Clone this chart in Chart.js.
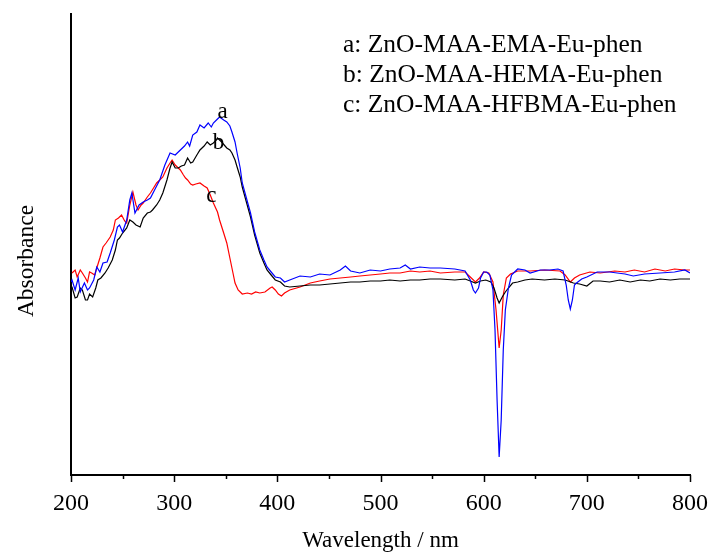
<!DOCTYPE html>
<html lang="en">
<head>
    <meta charset="UTF-8">
    <title>Absorbance spectra</title>
    <script src="https://cdn.jsdelivr.net/npm/chart.js"></script>
    <style>
        body {
            margin: 0;
            background: #fff;
        }
        #chartBox {
            width: 710px;
            height: 554px;
        }
    </style>
</head>
<body>
    <div id="chartBox">
        <canvas id="absChart" width="710" height="554"></canvas>
    </div>

    <script>
        // a: ZnO-MAA-EMA-Eu-phen (blue)
        const wlA = [200,201,204,207,209,213,216,218,222,225,228,231,235,238,242,245,247,250,254,257,259,262,266,270,274,277,281,286,291,296,301,306,310,313,315,318,322,325,329,333,336,338,342,344,348,351,354,356,359,361,364,366,370,374,378,383,387,390,394,398,403,407,412,422,432,441,451,461,466,471,480,490,500,509,519,524,529,538,548,558,572,582,587,590,592,595,597,600,603,606,609,611,613,615,617,619,621,624,627,633,640,645,655,664,672,677,680,682,684,686,688,690,695,700,710,722,737,745,756,771,785,795,800];
        const absA = [1.93,1.95,1.85,1.97,1.83,1.92,1.85,1.87,1.95,2.08,2.03,2.12,2.13,2.22,2.35,2.48,2.50,2.43,2.55,2.75,2.82,2.62,2.70,2.73,2.75,2.77,2.85,2.95,3.10,3.22,3.20,3.25,3.29,3.33,3.29,3.40,3.43,3.50,3.47,3.52,3.48,3.52,3.56,3.58,3.55,3.53,3.49,3.43,3.33,3.22,3.07,2.92,2.77,2.62,2.43,2.25,2.15,2.08,2.03,1.98,1.97,1.93,1.95,1.99,1.98,2.01,2.00,2.05,2.09,2.04,2.02,2.05,2.04,2.06,2.07,2.10,2.06,2.08,2.07,2.07,2.06,2.04,1.95,1.85,1.82,1.87,1.97,2.03,2.03,2.00,1.85,1.45,0.75,0.18,0.55,1.25,1.65,1.87,2.00,2.06,2.05,2.02,2.05,2.05,2.06,2.04,1.90,1.75,1.66,1.75,1.90,1.92,1.96,1.98,2.03,2.03,2.01,1.99,2.01,2.02,2.03,2.05,2.02];

        // b: ZnO-MAA-HEMA-Eu-phen (black)
        const wlB = [200,201,204,206,209,211,214,216,218,221,224,226,229,233,236,240,243,245,247,250,254,257,260,263,267,270,274,277,279,283,286,289,293,296,298,301,304,307,310,313,316,318,322,325,329,332,335,338,341,342,346,351,354,356,359,361,364,366,370,374,378,383,387,390,394,398,403,407,412,422,432,441,451,461,471,480,490,500,509,519,529,538,548,558,572,582,587,592,597,602,607,610,613,615,618,621,624,628,633,640,647,659,669,679,687,693,700,706,713,722,732,742,752,761,771,781,790,800];
        const absB = [1.88,1.88,1.77,1.78,1.87,1.85,1.75,1.75,1.81,1.78,1.87,1.95,1.97,2.02,2.07,2.15,2.25,2.35,2.37,2.42,2.47,2.55,2.53,2.50,2.48,2.57,2.62,2.63,2.65,2.70,2.75,2.82,2.95,3.07,3.13,3.07,3.07,3.09,3.10,3.17,3.12,3.13,3.20,3.25,3.29,3.33,3.30,3.32,3.35,3.37,3.33,3.27,3.25,3.22,3.15,3.08,2.98,2.88,2.73,2.58,2.40,2.22,2.12,2.05,2.00,1.95,1.93,1.89,1.88,1.89,1.90,1.90,1.91,1.92,1.93,1.93,1.94,1.94,1.95,1.94,1.95,1.95,1.96,1.96,1.95,1.96,1.94,1.92,1.94,1.95,1.93,1.87,1.77,1.72,1.78,1.83,1.87,1.92,1.93,1.95,1.96,1.95,1.96,1.95,1.92,1.91,1.89,1.94,1.94,1.93,1.95,1.93,1.95,1.94,1.96,1.95,1.96,1.96];

        // c: ZnO-MAA-HFBMA-Eu-phen (red)
        const wlC = [201,204,206,209,211,214,216,218,220,223,225,228,231,234,238,241,243,246,249,252,254,257,260,263,265,268,270,274,277,280,283,286,289,293,296,298,301,303,306,309,311,313,316,318,321,325,329,332,335,338,342,344,348,351,354,357,359,362,366,371,375,379,383,388,393,395,398,401,404,407,412,422,432,441,451,461,471,480,490,500,509,519,529,538,548,558,572,582,587,592,596,600,605,609,612,615,617,619,622,626,633,645,659,674,679,684,688,693,703,713,727,737,746,756,766,776,785,795,800];
        const absC = [2.02,2.05,1.98,2.05,2.02,1.97,1.93,2.03,2.02,2.00,2.07,2.17,2.28,2.32,2.38,2.45,2.55,2.57,2.60,2.54,2.52,2.70,2.83,2.70,2.65,2.70,2.72,2.78,2.82,2.87,2.92,2.95,2.98,3.07,3.12,3.15,3.10,3.08,3.05,3.00,2.97,2.95,2.91,2.90,2.91,2.92,2.89,2.87,2.80,2.72,2.63,2.55,2.42,2.32,2.17,2.02,1.92,1.85,1.81,1.82,1.81,1.83,1.82,1.83,1.87,1.88,1.85,1.81,1.79,1.82,1.85,1.88,1.92,1.94,1.96,1.97,1.98,1.99,2.00,2.01,2.02,2.02,2.04,2.03,2.04,2.02,2.03,2.03,1.98,1.93,1.97,2.03,2.02,1.93,1.65,1.27,1.45,1.80,1.97,2.01,2.04,2.04,2.05,2.04,2.00,1.93,1.97,2.00,2.03,2.02,2.04,2.03,2.05,2.03,2.06,2.04,2.06,2.05,2.05];

        const seriesNames = ['a: ZnO-MAA-EMA-Eu-phen', 'b: ZnO-MAA-HEMA-Eu-phen', 'c: ZnO-MAA-HFBMA-Eu-phen'];
        const xTicks = [200, 300, 400, 500, 600, 700, 800];

        const serif = '"Liberation Serif", "Times New Roman", serif';

        function toPoints(xs, ys) {
            return xs.map((x, i) => ({x: x, y: ys[i]}));
        }

        // minor ticks, titles, legend text and curve letters
        const decorPlugin = {
            id: 'decor',
            afterDraw(chart) {
                const c = chart.ctx;
                const xs = chart.scales.x;
                const ys = chart.scales.y;
                const base = chart.chartArea.bottom;
                c.save();
                c.strokeStyle = '#000';
                c.lineWidth = 1.5;
                for (let v = 200; v <= 800; v += 50) {
                    const px = Math.round(xs.getPixelForValue(v)) + 0.5;
                    const len = v % 100 === 0 ? 7 : 4;
                    c.beginPath();
                    c.moveTo(px, base);
                    c.lineTo(px, base + len);
                    c.stroke();
                }

                c.fillStyle = '#000';
                c.textAlign = 'center';
                c.textBaseline = 'middle';
                c.font = '23px ' + serif;
                c.fillText('Wavelength / nm', (chart.chartArea.left + chart.chartArea.right) / 2, 541);

                c.save();
                c.translate(27, 261);
                c.rotate(-Math.PI / 2);
                c.font = '23.5px ' + serif;
                c.fillText('Absorbance', 0, 0);
                c.restore();

                c.font = '25.5px ' + serif;
                c.textAlign = 'left';
                seriesNames.forEach((name, i) => {
                    c.fillText(name, 343, 45 + i * 30);
                });

                c.font = '23px ' + serif;
                c.textAlign = 'center';
                c.fillText('a', xs.getPixelForValue(347), ys.getPixelForValue(3.63));
                c.fillText('b', xs.getPixelForValue(343), ys.getPixelForValue(3.32));
                c.fillText('c', xs.getPixelForValue(336), ys.getPixelForValue(2.79));
                c.restore();
            }
        };

        const ctx = document.getElementById('absChart').getContext('2d');

        const chart = new Chart(ctx, {
            type: 'line',
            data: {
                datasets: [
                    {label: seriesNames[0], data: toPoints(wlA, absA), borderColor: '#0000ff'},
                    {label: seriesNames[1], data: toPoints(wlB, absB), borderColor: '#000000'},
                    {label: seriesNames[2], data: toPoints(wlC, absC), borderColor: '#ff0000'}
                ]
            },
            options: {
                responsive: false,
                animation: false,
                devicePixelRatio: 1,
                layout: {
                    padding: {top: 14, right: 20, left: 0, bottom: 0}
                },
                elements: {
                    point: {radius: 0},
                    line: {borderWidth: 1.2, tension: 0}
                },
                scales: {
                    x: {
                        type: 'linear',
                        min: 200,
                        max: 800,
                        afterFit: (s) => {
                            s.height = 79;
                            s.paddingLeft = 0;
                            s.paddingRight = 0;
                        },
                        afterBuildTicks: (s) => { s.ticks = xTicks.map(v => ({value: v})); },
                        grid: {display: false, drawTicks: false},
                        border: {display: true, color: '#000', width: 2},
                        ticks: {
                            autoSkip: false,
                            maxRotation: 0,
                            padding: 14,
                            color: '#000',
                            font: {family: serif, size: 24}
                        }
                    },
                    y: {
                        min: 0,
                        max: 4.61,
                        afterFit: (s) => {
                            s.width = 71;
                            s.paddingTop = 0;
                            s.paddingBottom = 0;
                        },
                        grid: {display: false, drawTicks: false},
                        border: {display: true, color: '#000', width: 2},
                        ticks: {display: false}
                    }
                },
                plugins: {
                    legend: {display: false},
                    tooltip: {enabled: false}
                }
            },
            plugins: [decorPlugin]
        });
    </script>
</body>
</html>
